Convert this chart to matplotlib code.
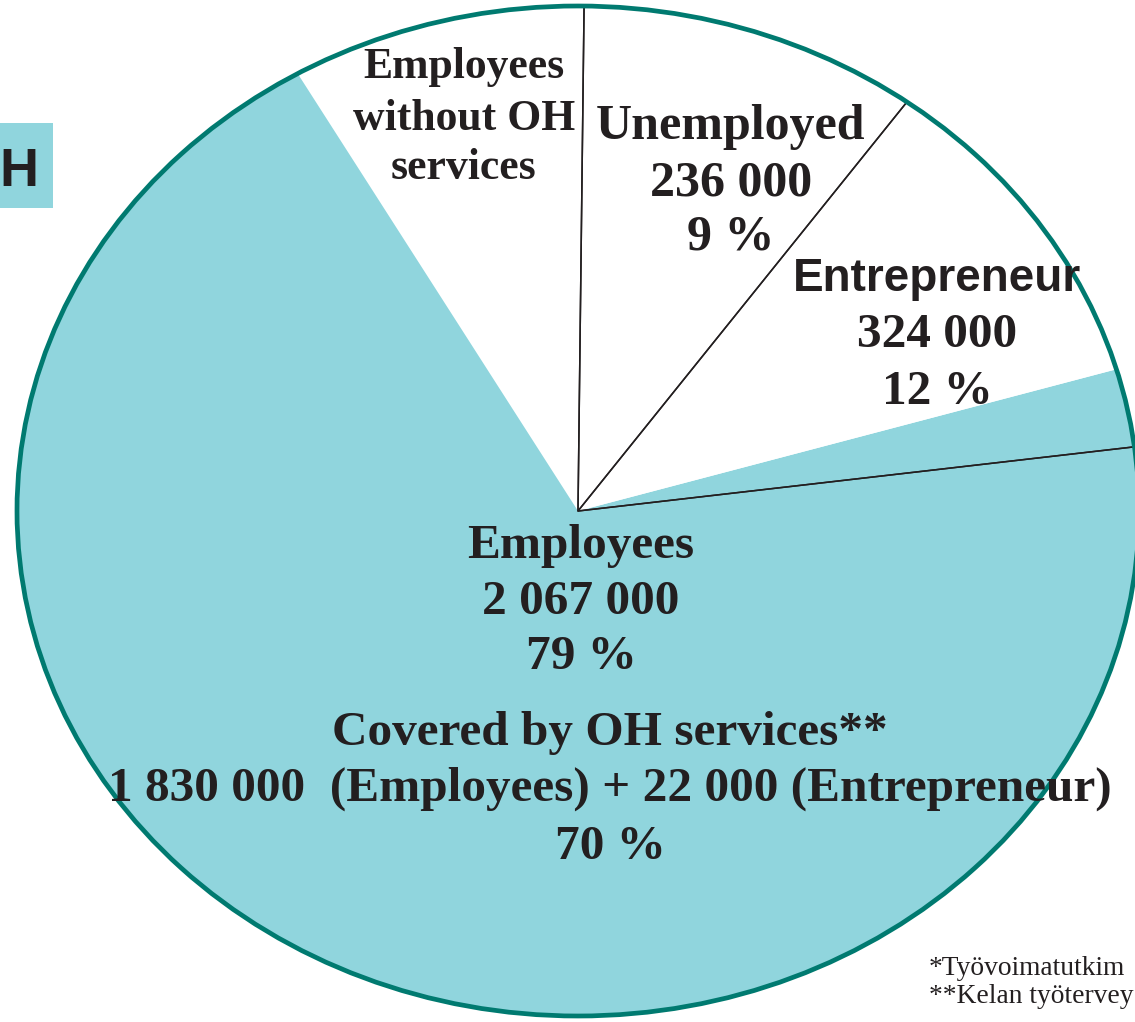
import matplotlib
matplotlib.use("Agg")

import matplotlib.pyplot as plt
from matplotlib.patches import Circle, Rectangle

# Slice shares as drawn (% of the full circle), counter-clockwise
# starting from the lower entrepreneur line
sub_labels = ["Entrepreneur, covered", "Entrepreneur, not covered", "Unemployed",
              "Employees without OH services", "Employees, covered"]
sub_shares = [2.5, 10.5, 9.8, 8.5, 68.7]
start_angle = 7.3

# Main groups (black dividing lines): Entrepreneur, Unemployed, Employees
group_shares = [sub_shares[0] + sub_shares[1], sub_shares[2], sub_shares[3] + sub_shares[4]]

employees_lines = ["Employees", "2 067 000", "79 %"]
covered_lines = ["Covered by OH services**",
                 "1 830 000  (Employees) + 22 000 (Entrepreneur)",
                 "70 %"]
without_lines = ["Employees", "without OH", "services"]
unemployed_lines = ["Unemployed", "236 000", "9 %"]
entrepreneur_lines = ["Entrepreneur", "324 000", "12 %"]
# the source picture is cropped at the right edge
footnotes = ["*Työvoimatutkim", "**Kelan työtervey"]

TEAL = "#90d5dd"
OUTLINE = "#007a70"
DARK = "#231f20"

W, H = 1135, 1022
CX, CY = 578, 511   # pie centre in pixels
RX, RY = 561, 505   # the pie is stretched into an ellipse

sub_colors = [TEAL, "white", "white", "white", TEAL]

fig = plt.figure(figsize=(W / 100, H / 100), dpi=100)
ax = fig.add_axes([0, 0, 1, 1])

ax.pie(sub_shares, colors=sub_colors, startangle=start_angle, radius=1,
       wedgeprops=dict(linewidth=0))
ax.pie(group_shares, startangle=start_angle, radius=1,
       wedgeprops=dict(facecolor="none", edgecolor=DARK, linewidth=1.1))
ax.add_patch(Circle((0, 0), 1, fill=False, edgecolor=OUTLINE, linewidth=3.4, zorder=5))

ax.set_aspect("auto")
ax.set_xlim(-CX / RX, (W - CX) / RX)
ax.set_ylim((CY - H) / RY, CY / RY)
ax.axis("off")


def put_lines(lines, x, baselines, size, family="Liberation Serif", weight="bold"):
    for s, y in zip(lines, baselines):
        fig.text(x / W, 1 - y / H, s, ha="center", va="baseline", fontsize=size,
                 family=family, fontweight=weight, color=DARK, zorder=6)


put_lines(employees_lines, 581, [558, 614, 669], 35.5)
put_lines(covered_lines, 610, [745, 801, 859], 35.5)
put_lines(without_lines, 464, [78, 130, 179], 31.5)
put_lines(unemployed_lines, 731, [139, 196, 250], 36)
put_lines(entrepreneur_lines[:1], 937, [291], 33, family="Liberation Sans")
put_lines(entrepreneur_lines[1:], 937, [347, 404], 35.5)

# title box, cut by the left edge
fig.add_artist(Rectangle((0, 1 - 208 / H), 53 / W, 85 / H, transform=fig.transFigure,
                         facecolor=TEAL, edgecolor="none"))
fig.text(-1 / W, 1 - 186 / H, "H", ha="left", va="baseline", fontsize=39,
         family="Liberation Sans", fontweight="bold", color=DARK)

for s, y in zip(footnotes, [975, 1003]):
    fig.text(929 / W, 1 - y / H, s, ha="left", va="baseline", fontsize=19.8,
             family="Liberation Serif", color=DARK)

fig.savefig("out.png", dpi=100)
